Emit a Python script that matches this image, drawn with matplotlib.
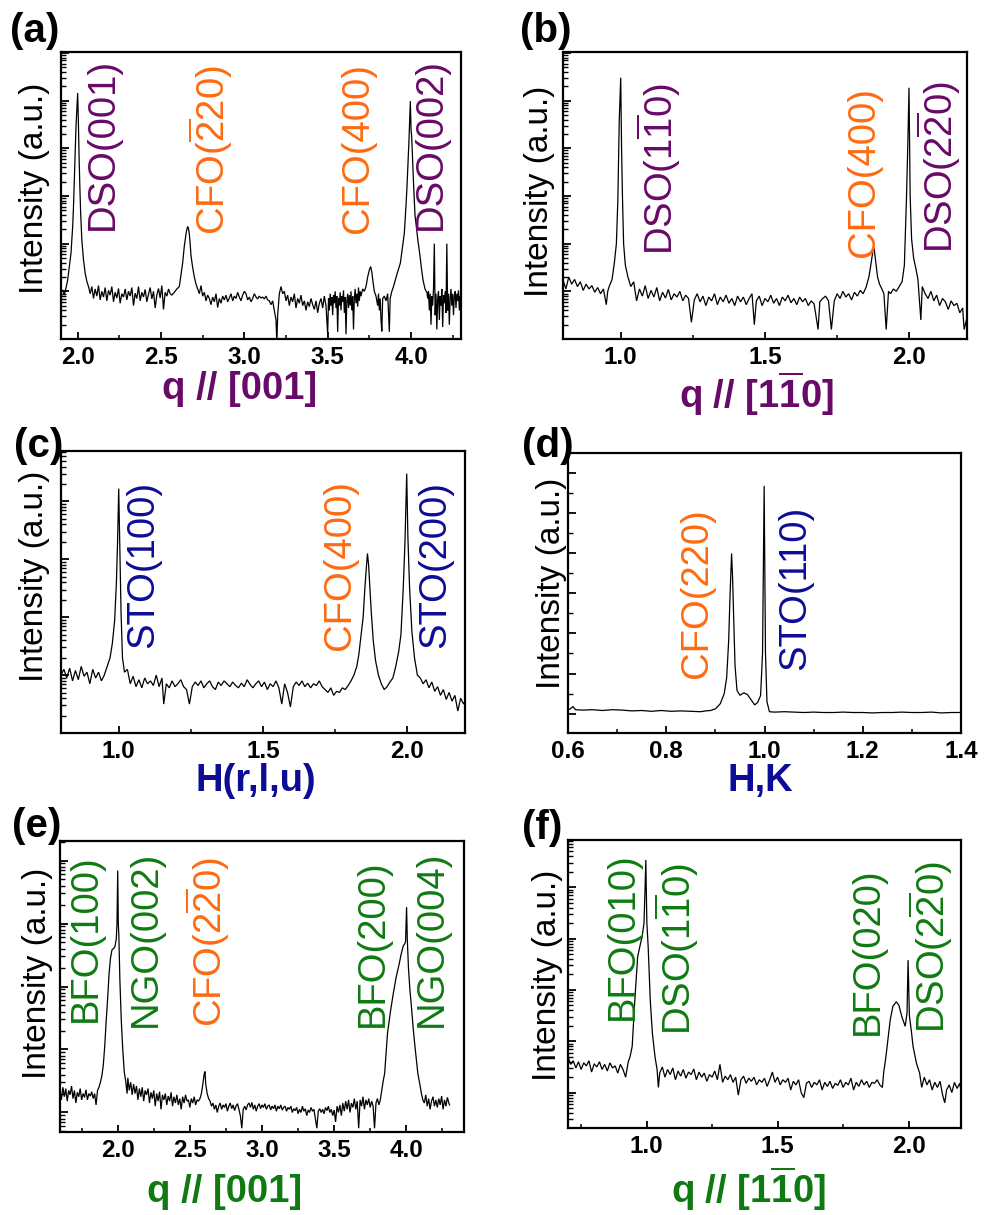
import numpy as np
import matplotlib
matplotlib.use("Agg")
import matplotlib.pyplot as plt
from matplotlib.ticker import LogLocator, MultipleLocator, NullFormatter, FormatStrFormatter
import matplotlib.transforms as mtrans

plt.rcParams['font.family'] = ['Liberation Sans', 'DejaVu Sans']
plt.rcParams['mathtext.fontset'] = 'custom'
plt.rcParams['mathtext.rm'] = 'Liberation Sans'
plt.rcParams['mathtext.it'] = 'Liberation Sans:italic'
plt.rcParams['mathtext.bf'] = 'Liberation Sans:bold'

# ---------------- data (x, log10 intensity) ----------------
a_scan = [
    (1.900, 0.97), (1.910, 1.03), (1.920, 0.93), (1.930, 1.07), (1.940, 1.24), (1.950, 1.52),
    (1.960, 1.80), (1.970, 2.36), (1.975, 2.78), (1.980, 3.34), (1.985, 3.97), (1.990, 4.46),
    (1.995, 4.81), (2.000, 5.16), (2.004, 4.60), (2.008, 3.90), (2.013, 3.20), (2.018, 2.64),
    (2.025, 2.08), (2.035, 1.66), (2.045, 1.38), (2.055, 1.21), (2.065, 1.10),
    (2.075, 0.95), (2.085, 1.10), (2.095, 0.85), (2.105, 1.05), (2.115, 0.90), (2.125, 1.12),
    (2.135, 0.82), (2.145, 1.00), (2.155, 0.88), (2.165, 1.08), (2.175, 0.80), (2.185, 1.02),
    (2.195, 0.92), (2.205, 1.10), (2.215, 0.78), (2.225, 0.98), (2.235, 0.86), (2.245, 1.06),
    (2.255, 0.75), (2.265, 0.95), (2.275, 0.88), (2.285, 1.05), (2.295, 0.82), (2.305, 1.00),
    (2.315, 0.90), (2.325, 1.08), (2.335, 0.70), (2.345, 0.96), (2.355, 0.85), (2.365, 1.10),
    (2.375, 0.80), (2.385, 0.98), (2.395, 0.88), (2.405, 1.04), (2.415, 0.78), (2.425, 0.94),
    (2.435, 1.08), (2.445, 0.84), (2.455, 1.00), (2.465, 0.65), (2.475, 0.92), (2.485, 1.06),
    (2.495, 0.86), (2.505, 1.12), (2.515, 0.62), (2.525, 0.98), (2.535, 0.90), (2.545, 1.05),
    (2.555, 0.95), (2.565, 0.92), (2.580, 0.98), (2.595, 1.05), (2.610, 1.10), (2.620, 1.35),
    (2.630, 1.60), (2.640, 1.95), (2.650, 2.20), (2.655, 2.30), (2.660, 2.36), (2.665, 2.32),
    (2.670, 2.20), (2.675, 2.00), (2.680, 1.75), (2.690, 1.50), (2.700, 1.30), (2.710, 1.15),
    (2.720, 1.05), (2.730, 0.95), (2.740, 1.12), (2.750, 0.90), (2.760, 0.98), (2.770, 0.80),
    (2.780, 0.92), (2.790, 0.85), (2.800, 0.72), (2.810, 0.88), (2.820, 0.78), (2.830, 0.95),
    (2.840, 0.66), (2.850, 0.85), (2.860, 0.75), (2.870, 0.90), (2.880, 0.82), (2.890, 0.92),
    (2.900, 0.78), (2.910, 0.86), (2.920, 0.95), (2.930, 0.80), (2.940, 0.90), (2.950, 0.85),
    (2.960, 0.98), (2.970, 0.88), (2.980, 0.80), (2.990, 0.92), (3.000, 1.00), (3.010, 0.95),
    (3.020, 0.82), (3.030, 0.88), (3.040, 0.78), (3.050, 0.85), (3.060, 0.95), (3.070, 0.88),
    (3.080, 0.84), (3.090, 0.90), (3.100, 0.86), (3.110, 0.88), (3.120, 0.84), (3.130, 0.90),
    (3.140, 0.82), (3.150, 0.80), (3.160, 0.72), (3.170, 0.80), (3.180, 0.60), (3.190, 0.40),
    (3.195, -0.10), (3.200, 0.50), (3.210, 0.95), (3.220, 1.10), (3.230, 0.95), (3.240, 1.00),
    (3.250, 0.80), (3.260, 0.92), (3.270, 0.70), (3.280, 0.88), (3.290, 0.78), (3.300, 0.95),
    (3.310, 0.65), (3.320, 0.85), (3.330, 0.75), (3.340, 0.92), (3.350, 0.70), (3.360, 0.80),
    (3.370, 0.60), (3.380, 0.78), (3.390, 0.68), (3.400, 0.85), (3.410, 0.72), (3.420, 0.62),
    (3.430, 0.80), (3.440, 0.55), (3.450, 0.75), (3.460, 0.85), (3.470, 0.65), (3.480, 0.90),
    (3.490, 0.70), (3.500, 0.10), (3.505, 0.85), (3.510, 0.60), (3.515, 0.95), (3.520, 0.70),
    (3.525, 0.88), (3.530, 0.50), (3.535, 0.92), (3.540, 0.75), (3.545, 1.00), (3.550, 0.65),
    (3.555, 0.90), (3.560, 0.15), (3.565, 0.85), (3.570, 0.70), (3.575, 0.98), (3.580, 0.60),
    (3.585, 0.90), (3.590, 0.78), (3.595, 1.02), (3.600, 0.55), (3.605, 0.88), (3.610, 0.10),
    (3.615, 0.80), (3.620, 0.95), (3.625, 0.65), (3.630, 0.92), (3.635, 0.70), (3.640, 1.00),
    (3.645, 0.60), (3.650, 0.90), (3.655, 0.20), (3.660, 0.85), (3.665, 1.05), (3.670, 0.75),
    (3.675, 0.95), (3.680, 0.68), (3.685, 1.08), (3.690, 0.80), (3.695, 1.00), (3.700, 0.90),
    (3.710, 1.05), (3.720, 1.00), (3.730, 1.10), (3.740, 1.30), (3.750, 1.45), (3.758, 1.52),
    (3.765, 1.40), (3.772, 1.20), (3.780, 1.00), (3.790, 0.90), (3.800, 0.70), (3.805, 0.95),
    (3.810, 0.60), (3.815, 0.85), (3.820, 0.40), (3.825, 0.16), (3.830, 0.85), (3.840, 0.90),
    (3.850, 0.80), (3.860, 0.95), (3.870, 0.15), (3.875, 0.85), (3.885, 1.00), (3.895, 1.10),
    (3.915, 1.35), (3.936, 1.59), (3.950, 1.95), (3.960, 2.22), (3.970, 2.80), (3.976, 3.20),
    (3.983, 3.80), (3.988, 4.18), (3.996, 4.99), (4.000, 4.40), (4.004, 4.25), (4.010, 3.70),
    (4.016, 3.20), (4.024, 2.60), (4.032, 2.36), (4.042, 2.05), (4.052, 1.80), (4.062, 1.50),
    (4.072, 1.24), (4.084, 1.05), (4.096, 0.97), (4.100, 0.85), (4.105, 1.00), (4.110, 0.60),
    (4.115, 0.95), (4.120, 0.30), (4.125, 0.90), (4.130, 0.70), (4.135, 1.05), (4.140, 2.00),
    (4.145, 0.50), (4.150, 0.95), (4.155, 0.20), (4.160, 0.85), (4.165, 1.00), (4.170, 0.40),
    (4.175, 0.90), (4.180, 0.70), (4.185, 1.05), (4.190, 0.25), (4.195, 0.92), (4.200, 0.75),
    (4.205, 1.00), (4.210, 0.55), (4.215, 2.00), (4.220, 0.60), (4.225, 0.95), (4.230, 0.30),
    (4.235, 0.85), (4.240, 1.05), (4.245, 0.70), (4.250, 0.95), (4.255, 0.50), (4.260, 0.90),
    (4.265, 1.00), (4.270, 0.65), (4.275, 0.95), (4.280, 0.80), (4.285, 1.02), (4.290, 0.60),
    (4.295, 0.90), (4.300, 0.85),
]

b_scan = [
    (0.800, 1.24), (0.810, 1.05), (0.820, 1.30), (0.830, 1.15), (0.840, 1.25), (0.850, 1.10),
    (0.860, 1.20), (0.870, 1.02), (0.880, 1.15), (0.890, 1.05), (0.900, 1.12), (0.910, 0.98),
    (0.920, 1.08), (0.930, 0.95), (0.940, 1.05), (0.950, 0.72), (0.955, 1.00), (0.960, 1.10),
    (0.970, 1.25), (0.978, 1.60), (0.985, 2.00), (0.990, 2.90), (0.995, 4.60), (1.000, 5.48),
    (1.003, 4.00), (1.006, 3.00), (1.010, 2.00), (1.016, 1.55), (1.025, 1.30), (1.035, 1.10),
    (1.045, 1.20), (1.055, 0.80), (1.065, 1.05), (1.075, 0.90), (1.085, 1.12), (1.095, 0.85),
    (1.105, 1.02), (1.115, 0.88), (1.125, 1.08), (1.135, 0.80), (1.145, 0.98), (1.155, 0.86),
    (1.165, 1.04), (1.175, 0.82), (1.185, 0.95), (1.195, 0.88), (1.205, 1.00), (1.215, 0.80),
    (1.225, 0.92), (1.235, 0.85), (1.245, 0.35), (1.255, 0.82), (1.265, 0.95), (1.275, 0.78),
    (1.285, 0.90), (1.295, 0.70), (1.305, 0.88), (1.315, 0.80), (1.325, 0.95), (1.335, 0.72),
    (1.345, 0.88), (1.355, 0.78), (1.365, 0.92), (1.375, 0.75), (1.385, 0.85), (1.395, 0.70),
    (1.405, 0.90), (1.415, 0.78), (1.425, 0.88), (1.435, 0.72), (1.445, 0.85), (1.455, 0.95),
    (1.463, 0.30), (1.470, 0.80), (1.480, 0.90), (1.490, 0.70), (1.500, 0.85), (1.510, 0.78),
    (1.520, 0.92), (1.530, 0.75), (1.540, 0.85), (1.550, 0.70), (1.560, 0.88), (1.570, 0.80),
    (1.580, 0.92), (1.590, 0.76), (1.600, 0.85), (1.610, 0.72), (1.620, 0.88), (1.630, 0.78),
    (1.640, 0.85), (1.650, 0.70), (1.660, 0.80), (1.670, 0.74), (1.684, 0.20), (1.690, 0.78),
    (1.700, 0.85), (1.710, 0.90), (1.720, 0.80), (1.730, 0.20), (1.740, 0.80), (1.750, 0.95),
    (1.760, 0.85), (1.770, 1.00), (1.780, 0.88), (1.790, 0.95), (1.800, 0.82), (1.810, 0.98),
    (1.820, 0.90), (1.830, 1.02), (1.840, 0.95), (1.850, 1.08), (1.860, 1.30), (1.868, 1.60),
    (1.874, 1.85), (1.878, 1.91), (1.884, 1.60), (1.890, 1.30), (1.897, 1.15), (1.905, 1.05),
    (1.912, 0.95), (1.920, 0.20), (1.928, 1.00), (1.935, 0.95), (1.945, 1.05), (1.955, 1.00),
    (1.965, 1.10), (1.975, 1.20), (1.983, 1.55), (1.990, 2.90), (1.995, 4.10), (1.999, 5.27),
    (2.003, 3.00), (2.008, 2.10), (2.015, 1.70), (2.022, 1.50), (2.030, 1.25), (2.040, 0.40),
    (2.045, 1.10), (2.055, 0.95), (2.065, 0.85), (2.075, 1.00), (2.085, 0.80), (2.095, 0.92),
    (2.105, 0.70), (2.115, 0.85), (2.125, 0.78), (2.135, 0.62), (2.145, 0.80), (2.155, 0.70),
    (2.165, 0.75), (2.175, 0.55), (2.185, 0.65), (2.190, 0.20), (2.200, 0.45),
]

c_scan = [
    (0.800, 1.00), (0.810, 1.10), (0.820, 0.95), (0.830, 1.12), (0.840, 0.90), (0.850, 1.08),
    (0.860, 0.92), (0.870, 1.15), (0.880, 0.98), (0.890, 1.05), (0.900, 0.85), (0.910, 1.10),
    (0.920, 0.95), (0.930, 1.05), (0.940, 0.90), (0.950, 1.00), (0.960, 1.15), (0.970, 1.30),
    (0.978, 1.55), (0.986, 1.95), (0.992, 2.60), (0.996, 3.30), (1.000, 4.22), (1.004, 3.20),
    (1.008, 2.10), (1.013, 1.30), (1.020, 1.05), (1.030, 1.10), (1.040, 0.85), (1.050, 0.98),
    (1.060, 0.80), (1.070, 0.92), (1.080, 0.78), (1.090, 0.95), (1.100, 0.85), (1.110, 0.90),
    (1.120, 0.82), (1.130, 1.00), (1.140, 0.80), (1.150, 0.95), (1.156, 0.50), (1.165, 0.85),
    (1.175, 0.78), (1.185, 0.90), (1.195, 0.80), (1.205, 0.85), (1.215, 0.92), (1.225, 0.80),
    (1.235, 0.75), (1.245, 0.50), (1.255, 0.80), (1.265, 0.88), (1.275, 0.82), (1.285, 0.90),
    (1.295, 0.78), (1.305, 0.85), (1.315, 0.90), (1.325, 0.80), (1.335, 0.75), (1.345, 0.88),
    (1.355, 0.82), (1.365, 0.90), (1.375, 0.85), (1.385, 0.80), (1.395, 0.88), (1.405, 0.82),
    (1.415, 0.78), (1.425, 0.86), (1.435, 0.80), (1.445, 0.92), (1.455, 0.84), (1.465, 0.78),
    (1.475, 0.85), (1.485, 0.90), (1.495, 0.80), (1.505, 0.88), (1.515, 0.75), (1.525, 0.85),
    (1.535, 0.80), (1.545, 0.90), (1.555, 0.78), (1.565, 0.50), (1.575, 0.85), (1.585, 0.70),
    (1.595, 0.45), (1.605, 0.80), (1.615, 0.88), (1.625, 0.82), (1.635, 0.90), (1.645, 0.80),
    (1.655, 0.86), (1.665, 0.78), (1.675, 0.85), (1.685, 0.82), (1.695, 0.90), (1.705, 0.80),
    (1.715, 0.75), (1.725, 0.70), (1.735, 0.78), (1.745, 0.65), (1.755, 0.72), (1.765, 0.70),
    (1.775, 0.78), (1.785, 0.75), (1.795, 0.82), (1.805, 0.90), (1.815, 1.00), (1.825, 1.15),
    (1.832, 1.35), (1.840, 1.70), (1.847, 2.00), (1.853, 2.50), (1.858, 2.85), (1.862, 3.10),
    (1.866, 2.90), (1.870, 2.55), (1.875, 2.10), (1.882, 1.60), (1.890, 1.25), (1.900, 1.00),
    (1.910, 0.85), (1.920, 0.75), (1.930, 0.80), (1.940, 0.88), (1.950, 0.95), (1.960, 1.15),
    (1.970, 1.40), (1.978, 1.70), (1.986, 2.50), (1.992, 3.30), (1.998, 4.48), (2.002, 3.40),
    (2.008, 2.50), (2.016, 1.75), (2.025, 1.30), (2.035, 1.00), (2.045, 0.95), (2.055, 0.85),
    (2.065, 0.92), (2.075, 0.78), (2.085, 0.88), (2.095, 0.72), (2.105, 0.80), (2.115, 0.65),
    (2.125, 0.75), (2.135, 0.58), (2.145, 0.70), (2.155, 0.55), (2.165, 0.65), (2.175, 0.38),
    (2.185, 0.60), (2.195, 0.50), (2.200, 0.55),
]

# panel (d) is on a linear intensity scale (arbitrary units)
d_scan = [
    (0.600, 0.10), (0.605, 0.12), (0.610, 0.18), (0.615, 0.10), (0.630, 0.09), (0.650, 0.10),
    (0.670, 0.08), (0.690, 0.10), (0.710, 0.09), (0.730, 0.07), (0.750, 0.08), (0.770, 0.06),
    (0.790, 0.08), (0.810, 0.06), (0.830, 0.07), (0.850, 0.06), (0.870, 0.05), (0.880, 0.07),
    (0.890, 0.08), (0.900, 0.12), (0.910, 0.25), (0.918, 0.50), (0.923, 0.90), (0.927, 1.80),
    (0.930, 3.00), (0.933, 3.98), (0.935, 3.40), (0.937, 2.50), (0.940, 1.20), (0.944, 0.58),
    (0.950, 0.46), (0.958, 0.52), (0.965, 0.48), (0.972, 0.36), (0.980, 0.22), (0.986, 0.28),
    (0.992, 0.45), (0.996, 1.50), (0.9993, 5.66), (1.002, 1.50), (1.005, 0.30), (1.010, 0.05),
    (1.020, 0.04), (1.040, 0.05), (1.060, 0.04), (1.080, 0.03), (1.100, 0.04), (1.120, 0.03),
    (1.140, 0.03), (1.160, 0.04), (1.180, 0.03), (1.200, 0.03), (1.220, 0.02), (1.240, 0.03),
    (1.260, 0.03), (1.280, 0.04), (1.300, 0.03), (1.320, 0.03), (1.340, 0.04), (1.360, 0.02),
    (1.380, 0.03), (1.400, 0.03),
]

e_scan = [
    (1.60, 0.36), (1.61, 0.20), (1.62, 0.40), (1.63, 0.25), (1.64, 0.38), (1.65, 0.18),
    (1.66, 0.35), (1.67, 0.28), (1.68, 0.42), (1.69, 0.22), (1.70, 0.35), (1.71, 0.15),
    (1.72, 0.32), (1.73, 0.25), (1.74, 0.38), (1.75, 0.20), (1.76, 0.30), (1.77, 0.24),
    (1.78, 0.36), (1.79, 0.20), (1.80, 0.30), (1.81, 0.26), (1.82, 0.33), (1.83, 0.22),
    (1.84, 0.30), (1.85, 0.12), (1.86, 0.35), (1.87, 0.40), (1.88, 0.48), (1.89, 0.58),
    (1.90, 0.75), (1.91, 1.05), (1.92, 1.45), (1.93, 1.80), (1.94, 2.20), (1.95, 2.45),
    (1.96, 2.58), (1.97, 2.60), (1.98, 2.63), (1.99, 2.75), (1.995, 3.00), (2.000, 3.84),
    (2.004, 3.00), (2.008, 2.80), (2.015, 2.10), (2.025, 1.45), (2.035, 1.00), (2.045, 0.65),
    (2.055, 0.50), (2.065, 0.30), (2.07, 0.55), (2.08, 0.35), (2.09, 0.48), (2.10, 0.28),
    (2.11, 0.45), (2.12, 0.30), (2.13, 0.42), (2.14, 0.20), (2.15, 0.38), (2.16, 0.25),
    (2.17, 0.40), (2.18, 0.18), (2.19, 0.35), (2.20, 0.28), (2.21, 0.38), (2.22, 0.15),
    (2.23, 0.32), (2.24, 0.22), (2.25, 0.35), (2.26, 0.10), (2.27, 0.30), (2.28, 0.18),
    (2.29, 0.33), (2.30, 0.05), (2.31, 0.28), (2.32, 0.20), (2.33, 0.30), (2.34, 0.12),
    (2.35, 0.26), (2.36, 0.18), (2.37, 0.32), (2.38, 0.10), (2.39, 0.25), (2.40, 0.15),
    (2.41, 0.28), (2.42, 0.12), (2.43, 0.22), (2.44, 0.05), (2.45, 0.25), (2.46, 0.15),
    (2.47, 0.28), (2.48, 0.18), (2.49, 0.20), (2.50, 0.08), (2.51, 0.22), (2.52, 0.15),
    (2.53, 0.25), (2.54, 0.12), (2.55, 0.20), (2.56, 0.18), (2.57, 0.22), (2.58, 0.30),
    (2.59, 0.45), (2.60, 0.62), (2.605, 0.65), (2.61, 0.45), (2.62, 0.30), (2.63, 0.22),
    (2.64, 0.18), (2.65, 0.10), (2.66, 0.15), (2.67, 0.05), (2.68, 0.12), (2.69, 0.00),
    (2.70, 0.10), (2.71, 0.15), (2.72, 0.05), (2.73, 0.12), (2.74, 0.08), (2.75, 0.14),
    (2.76, 0.02), (2.77, 0.10), (2.78, 0.15), (2.79, 0.06), (2.80, 0.12), (2.81, 0.03),
    (2.82, 0.10), (2.83, 0.14), (2.84, 0.05), (2.85, -0.05), (2.86, -0.25), (2.87, 0.05),
    (2.88, 0.10), (2.89, 0.04), (2.90, 0.12), (2.91, 0.15), (2.92, 0.08), (2.93, 0.16),
    (2.94, 0.05), (2.95, 0.12), (2.96, 0.02), (2.97, 0.10), (2.98, 0.14), (2.99, 0.06),
    (3.00, 0.12), (3.01, 0.08), (3.02, 0.14), (3.03, 0.05), (3.04, 0.10), (3.05, 0.12),
    (3.06, 0.04), (3.07, 0.10), (3.08, 0.06), (3.09, 0.12), (3.10, 0.02), (3.11, 0.10),
    (3.12, 0.06), (3.13, 0.12), (3.14, 0.04), (3.15, 0.08), (3.16, 0.10), (3.17, 0.02),
    (3.18, 0.08), (3.19, 0.05), (3.20, 0.10), (3.21, 0.00), (3.22, 0.06), (3.23, 0.03),
    (3.24, 0.08), (3.25, -0.02), (3.26, 0.05), (3.27, 0.00), (3.28, 0.10), (3.29, 0.02),
    (3.30, 0.06), (3.31, -0.05), (3.32, 0.04), (3.33, 0.00), (3.34, 0.08), (3.35, 0.02),
    (3.36, 0.05), (3.37, -0.10), (3.38, -0.25), (3.39, 0.02), (3.40, 0.06), (3.41, 0.00),
    (3.42, 0.05), (3.43, -0.02), (3.44, 0.08), (3.45, 0.03), (3.46, 0.10), (3.47, 0.00),
    (3.48, 0.05), (3.49, -0.05), (3.50, 0.04), (3.51, -0.15), (3.52, 0.10), (3.53, 0.00),
    (3.54, 0.12), (3.55, -0.05), (3.56, 0.15), (3.57, 0.02), (3.58, 0.18), (3.59, 0.05),
    (3.60, 0.20), (3.61, 0.00), (3.62, 0.15), (3.63, 0.08), (3.64, 0.22), (3.65, 0.05),
    (3.66, 0.18), (3.67, -0.25), (3.68, 0.20), (3.69, 0.10), (3.70, 0.25), (3.71, 0.05),
    (3.72, 0.20), (3.73, 0.12), (3.74, 0.22), (3.75, 0.08), (3.76, 0.18), (3.77, 0.10),
    (3.78, -0.25), (3.79, 0.15), (3.80, 0.22), (3.81, 0.12), (3.82, 0.20), (3.83, 0.35),
    (3.84, 0.50), (3.85, 0.62), (3.86, 0.95), (3.87, 1.26), (3.89, 1.60), (3.91, 1.89),
    (3.93, 2.15), (3.95, 2.35), (3.965, 2.52), (3.98, 2.65), (3.99, 2.68), (3.995, 2.72),
    (4.002, 3.26), (4.007, 2.75), (4.015, 2.30), (4.025, 1.95), (4.035, 1.70), (4.047, 1.36),
    (4.06, 1.05), (4.07, 0.83), (4.08, 0.62), (4.093, 0.46), (4.105, 0.30), (4.115, 0.20),
    (4.125, 0.15), (4.135, 0.28), (4.145, 0.10), (4.155, 0.22), (4.165, 0.05), (4.175, 0.18),
    (4.185, 0.25), (4.195, 0.10), (4.205, 0.20), (4.215, 0.08), (4.225, 0.22), (4.235, 0.12),
    (4.245, 0.26), (4.255, 0.05), (4.265, 0.20), (4.275, 0.10), (4.285, 0.24), (4.295, 0.15),
    (4.30, 0.12),
]

f_scan = [
    (0.70, 0.70), (0.71, 0.55), (0.72, 0.62), (0.73, 0.48), (0.74, 0.60), (0.75, 0.45),
    (0.76, 0.58), (0.77, 0.52), (0.78, 0.62), (0.79, 0.40), (0.80, 0.56), (0.81, 0.50),
    (0.82, 0.60), (0.83, 0.45), (0.84, 0.55), (0.85, 0.42), (0.86, 0.58), (0.87, 0.48),
    (0.88, 0.52), (0.89, 0.38), (0.90, 0.55), (0.91, 0.45), (0.92, 0.30), (0.93, 0.60),
    (0.937, 0.70), (0.945, 0.90), (0.955, 1.80), (0.966, 2.65), (0.977, 2.91), (0.983, 3.04),
    (0.990, 3.30), (0.994, 3.95), (0.997, 4.53), (1.001, 3.30), (1.006, 2.84), (1.014, 1.80),
    (1.022, 1.16), (1.032, 0.70), (1.040, 0.45), (1.045, 0.10), (1.05, 0.38), (1.06, 0.50),
    (1.07, 0.30), (1.08, 0.45), (1.09, 0.35), (1.10, 0.48), (1.11, 0.25), (1.12, 0.42),
    (1.13, 0.32), (1.14, 0.45), (1.15, 0.28), (1.16, 0.40), (1.17, 0.35), (1.18, 0.46),
    (1.19, 0.25), (1.20, 0.40), (1.21, 0.30), (1.22, 0.38), (1.23, 0.22), (1.24, 0.35),
    (1.25, 0.30), (1.26, 0.42), (1.27, 0.25), (1.28, 0.55), (1.29, 0.20), (1.30, 0.32),
    (1.31, 0.25), (1.32, 0.35), (1.33, 0.20), (1.34, 0.30), (1.35, -0.05), (1.36, 0.25),
    (1.37, 0.32), (1.38, 0.18), (1.39, 0.28), (1.40, 0.22), (1.41, 0.30), (1.42, 0.15),
    (1.43, 0.25), (1.44, 0.20), (1.45, 0.28), (1.46, 0.12), (1.47, 0.25), (1.48, 0.40),
    (1.49, 0.20), (1.50, 0.30), (1.51, 0.15), (1.52, 0.25), (1.53, 0.20), (1.54, 0.28),
    (1.55, 0.05), (1.56, 0.22), (1.57, 0.15), (1.58, 0.25), (1.59, 0.00), (1.60, -0.10),
    (1.61, 0.18), (1.62, 0.22), (1.63, 0.10), (1.64, 0.20), (1.65, 0.15), (1.66, 0.25),
    (1.67, 0.05), (1.68, 0.20), (1.69, 0.12), (1.70, 0.22), (1.71, 0.08), (1.72, 0.18),
    (1.73, 0.14), (1.74, 0.25), (1.75, 0.10), (1.76, 0.20), (1.77, 0.15), (1.78, 0.28),
    (1.79, 0.05), (1.80, 0.20), (1.81, 0.12), (1.82, 0.25), (1.83, 0.15), (1.84, 0.22),
    (1.85, 0.10), (1.86, 0.20), (1.87, 0.18), (1.88, 0.25), (1.89, 0.15), (1.90, 0.10),
    (1.905, 0.40), (1.912, 0.64), (1.921, 1.03), (1.930, 1.42), (1.940, 1.68), (1.953, 1.77),
    (1.963, 1.70), (1.974, 1.48), (1.987, 1.29), (1.994, 1.55), (1.998, 2.58), (2.003, 1.50),
    (2.010, 1.22), (2.017, 0.90), (2.030, 0.57), (2.042, 0.38), (2.05, 0.10), (2.06, 0.30),
    (2.07, 0.15), (2.08, 0.25), (2.09, 0.05), (2.10, 0.20), (2.11, 0.10), (2.12, 0.22),
    (2.13, -0.05), (2.138, -0.20), (2.145, 0.05), (2.155, 0.15), (2.165, 0.00), (2.175, 0.20),
    (2.185, 0.08), (2.195, 0.18), (2.20, 0.05),
]

# peak labels: (text, x position of label, colour key)
a_peaks = [("DSO(001)", 2.152, "purple"), (r"CFO($\overline{\mathrm{2}}$20)", 2.80, "orange"),
           ("CFO(400)", 3.682, "orange"), ("DSO(002)", 4.12, "purple")]
b_peaks = [(r"DSO(1$\overline{\mathrm{1}}$0)", 1.133, "purple"), ("CFO(400)", 1.843, "orange"),
           (r"DSO(2$\overline{\mathrm{2}}$0)", 2.103, "purple")]
c_peaks = [("STO(100)", 1.084, "navy"), ("CFO(400)", 1.767, "orange"), ("STO(200)", 2.096, "navy")]
d_peaks = [("CFO(220)", 0.863, "orange"), ("STO(110)", 1.062, "navy")]
e_peaks = [("BFO(100)", 1.780, "green"), ("NGO(002)", 2.196, "green"),
           (r"CFO(2$\overline{\mathrm{2}}$0)", 2.626, "orange"), ("BFO(200)", 3.769, "green"),
           ("NGO(004)", 4.178, "green")]
f_peaks = [("BFO(010)", 0.910, "green"), (r"DSO(1$\overline{\mathrm{1}}$0)", 1.116, "green"),
           ("BFO(020)", 1.845, "green"), (r"DSO(2$\overline{\mathrm{2}}$0)", 2.086, "green")]

xlabels = ["q // [001]", r"q // [1$\overline{\mathbf{1}}$0]", "H(r,l,u)", "H,K",
           "q // [001]", r"q // [1$\overline{\mathbf{1}}$0]"]
panel_letters = ["(a)", "(b)", "(c)", "(d)", "(e)", "(f)"]

# ---------------- styling ----------------
COL = {"purple": "#680a68", "orange": "#ff6a10", "navy": "#0c0c96", "green": "#0f7a12"}
W, H = 989, 1215
fig = plt.figure(figsize=(W / 100, H / 100), dpi=100)
fig.patch.set_facecolor("white")


def rect(l, r, t, b):
    return [l / W, 1 - b / H, (r - l) / W, (b - t) / H]


panels = [
    dict(scan=a_scan, peaks=a_peaks, rect=rect(61, 461, 52, 339), xlim=(1.9, 4.3), ylog=(0.0, 6.02),
         xmaj=0.5, xmin=0.25, xl_col="purple", xl=(0.447, -0.112), yl=(-0.027, 0.526),
         lab_y=[0.380, 0.362, 0.369, 0.380], letter=(10, 50)),
    dict(scan=b_scan, peaks=b_peaks, rect=rect(563, 967, 52, 339), xlim=(0.8, 2.2), ylog=(0.0, 6.02),
         xmaj=0.5, xmin=0.25, xl_col="purple", xl=(0.48, -0.105), yl=(-0.02, 0.516),
         lab_y=[0.293, 0.286, 0.300], letter=(520, 50)),
    dict(scan=c_scan, peaks=c_peaks, rect=rect(61, 465, 451, 733), xlim=(0.8, 2.2), ylog=(0.0, 4.87),
         xmaj=0.5, xmin=0.25, xl_col="navy", xl=(0.483, -0.108), yl=(-0.027, 0.557),
         lab_y=[0.301, 0.294, 0.301], letter=(14, 465)),
    dict(scan=d_scan, peaks=d_peaks, rect=rect(568, 961, 453, 733), xlim=(0.6, 1.4), ylin=(-0.48, 6.49),
         xmaj=0.2, xmin=0.1, xl_col="navy", xl=(0.489, -0.107), yl=(-0.003, 0.536),
         lab_y=[0.196, 0.225], letter=(522, 465)),
    dict(scan=e_scan, peaks=e_peaks, rect=rect(60, 464, 841, 1132), xlim=(1.6, 4.4), ylog=(-0.31, 4.31),
         xmaj=0.5, xmin=0.25, xl_col="green", xl=(0.408, -0.146), yl=(-0.017, 0.546),
         lab_y=[0.378, 0.361, 0.361, 0.361, 0.361], letter=(12, 845)),
    dict(scan=f_scan, peaks=f_peaks, rect=rect(568, 961, 840, 1128), xlim=(0.7, 2.2), ylog=(-0.69, 4.92),
         xmaj=0.5, xmin=0.25, xl_col="green", xl=(0.46, -0.128), yl=(-0.013, 0.531),
         lab_y=[0.375, 0.323, 0.323, 0.330], letter=(522, 847)),
]

for i, p in enumerate(panels):
    ax = fig.add_axes(p["rect"])
    ax.set_facecolor("none")
    arr = np.array(p["scan"]).T
    if "ylog" in p:
        ax.set_yscale("log")
        ax.plot(arr[0], 10 ** arr[1], color="black", lw=0.9, solid_joinstyle="miter")
        ax.set_ylim(10 ** p["ylog"][0], 10 ** p["ylog"][1])
        ax.yaxis.set_major_locator(LogLocator(base=10, numticks=20))
        ax.yaxis.set_minor_locator(LogLocator(base=10, subs=np.arange(2, 10), numticks=40))
        ax.yaxis.set_minor_formatter(NullFormatter())
        ax.yaxis.set_major_formatter(NullFormatter())
    else:
        ax.plot(arr[0], arr[1], color="black", lw=0.9)
        ax.set_ylim(*p["ylin"])
        ax.yaxis.set_major_locator(MultipleLocator(1.0))
        ax.yaxis.set_minor_locator(MultipleLocator(0.5))
        ax.yaxis.set_major_formatter(NullFormatter())
    ax.set_xlim(*p["xlim"])
    ax.xaxis.set_major_locator(MultipleLocator(p["xmaj"]))
    ax.xaxis.set_minor_locator(MultipleLocator(p["xmin"]))
    ax.xaxis.set_major_formatter(FormatStrFormatter("%.1f"))
    for s in ax.spines.values():
        s.set_linewidth(1.6)
    ax.tick_params(axis="x", which="both", direction="in", top=False, bottom=True, pad=5,
                   labelsize=17.5)
    ax.tick_params(axis="x", which="major", length=5, width=1.3)
    ax.tick_params(axis="x", which="minor", length=3, width=1.1)
    ax.tick_params(axis="y", which="both", direction="in", left=True, right=False, labelleft=False)
    ax.tick_params(axis="y", which="major", length=6, width=1.3)
    ax.tick_params(axis="y", which="minor", length=3.5, width=1.0)
    for lab in ax.get_xticklabels():
        lab.set_fontweight("bold")

    ax.set_xlabel(xlabels[i], fontsize=27.5, fontweight="bold", color=COL[p["xl_col"]])
    ax.xaxis.set_label_coords(*p["xl"])
    ax.set_ylabel("Intensity (a.u.)", fontsize=24, color="black")
    ax.yaxis.set_label_coords(*p["yl"])

    trans = mtrans.blended_transform_factory(ax.transData, ax.transAxes)
    for (txt, xp, ck), yb in zip(p["peaks"], p["lab_y"]):
        ax.text(xp, yb, txt, transform=trans, rotation=90, ha="center", va="bottom",
                fontsize=27.5, color=COL[ck], clip_on=False)

    lx, ly = p["letter"]
    fig.text(lx / W, 1 - ly / H, panel_letters[i], fontsize=29, fontweight="bold",
             ha="left", va="bottom", color="black")

fig.savefig("out.png", dpi=100, facecolor="white")
